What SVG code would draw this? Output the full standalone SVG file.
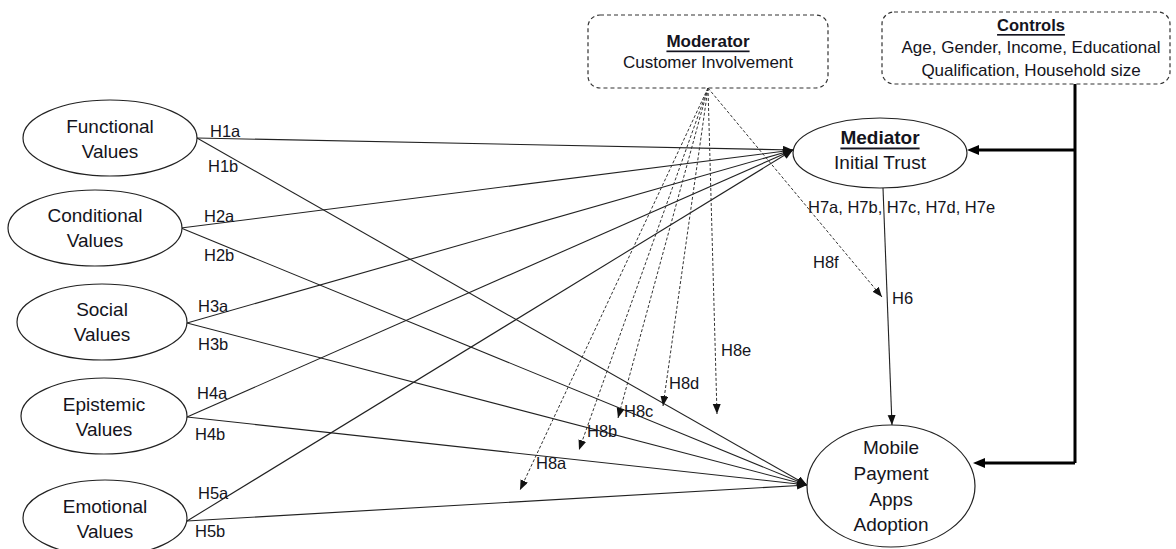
<svg xmlns="http://www.w3.org/2000/svg" width="1176" height="549" viewBox="0 0 1176 549">
<defs>
<marker id="ah" markerUnits="userSpaceOnUse" markerWidth="12" markerHeight="10" refX="10" refY="4" orient="auto">
<path d="M0,0 L10,4 L0,8 Z" fill="#111"/>
</marker>
<marker id="ahb" markerUnits="userSpaceOnUse" markerWidth="12" markerHeight="10" refX="10" refY="4" orient="auto">
<path d="M0,0 L10,4 L0,8 Z" fill="#000"/>
</marker>
<style>
.node{fill:#fff;stroke:#222;stroke-width:1.2}
.box{fill:#fff;stroke:#333;stroke-width:1.2;stroke-dasharray:4 3}
.t{font-family:"Liberation Sans",Arial,sans-serif;fill:#141420;text-anchor:middle;dominant-baseline:central}
.n{font-size:19px}
.s{font-size:17px}
.b{font-weight:bold;text-decoration:underline}
.lbl{font-family:"Liberation Sans",Arial,sans-serif;fill:#141420;font-size:16.5px;dominant-baseline:central}
.solid{stroke:#222;stroke-width:1.1;fill:none;marker-end:url(#ah)}
.dash{stroke:#333;stroke-width:1;fill:none;stroke-dasharray:3 2;marker-end:url(#ah)}
.thick{stroke:#000;stroke-width:3;fill:none}
</style>
</defs>
<rect width="1176" height="549" fill="#fff"/>

<g id="connectors">
<!-- value to mediator -->
<line class="solid" x1="197" y1="138" x2="793" y2="150"/>
<line class="solid" x1="181" y1="228" x2="793" y2="150"/>
<line class="solid" x1="187" y1="323" x2="793" y2="150"/>
<line class="solid" x1="187" y1="417" x2="793" y2="150"/>
<line class="solid" x1="187" y1="521" x2="793" y2="150"/>
<!-- value to adoption -->
<line class="solid" x1="197" y1="138" x2="807" y2="485"/>
<line class="solid" x1="181" y1="228" x2="807" y2="485"/>
<line class="solid" x1="187" y1="323" x2="807" y2="485"/>
<line class="solid" x1="187" y1="417" x2="807" y2="485"/>
<line class="solid" x1="187" y1="521" x2="807" y2="485"/>
<!-- mediator to adoption -->
<line class="solid" x1="883" y1="188" x2="892" y2="425"/>
<!-- moderator fan -->
<line class="dash" x1="708" y1="88" x2="520" y2="490"/>
<line class="dash" x1="708" y1="88" x2="579" y2="450"/>
<line class="dash" x1="708" y1="88" x2="618" y2="418"/>
<line class="dash" x1="708" y1="88" x2="663" y2="406"/>
<line class="dash" x1="708" y1="88" x2="717" y2="414"/>
<line class="dash" x1="708" y1="88" x2="882" y2="297"/>
<!-- controls -->
<polyline class="thick" points="1075,84 1075,463"/>
<line class="thick" x1="1075" y1="150" x2="978" y2="150"/>
<path d="M967,150 L979,145 L979,155 Z" fill="#000"/>
<line class="thick" x1="1075" y1="463" x2="984" y2="463"/>
<path d="M973,463 L985,458 L985,468 Z" fill="#000"/>
<!-- labels -->
<text class="lbl" x="210" y="131">H1a</text>
<text class="lbl" x="208" y="166">H1b</text>
<text class="lbl" x="204" y="216">H2a</text>
<text class="lbl" x="204" y="255">H2b</text>
<text class="lbl" x="198" y="306">H3a</text>
<text class="lbl" x="198" y="344">H3b</text>
<text class="lbl" x="197" y="393">H4a</text>
<text class="lbl" x="195" y="434">H4b</text>
<text class="lbl" x="198" y="493">H5a</text>
<text class="lbl" x="195" y="531">H5b</text>
<text class="lbl" x="808" y="207">H7a, H7b, H7c, H7d, H7e</text>
<text class="lbl" x="813" y="262">H8f</text>
<text class="lbl" x="892" y="298">H6</text>
<text class="lbl" x="536" y="463">H8a</text>
<text class="lbl" x="587" y="431">H8b</text>
<text class="lbl" x="624" y="411">H8c</text>
<text class="lbl" x="669" y="383">H8d</text>
<text class="lbl" x="721" y="350">H8e</text>
</g>

<g id="moderator">
<rect class="box" x="588" y="15" width="240" height="73" rx="12"/>
<text class="t s b" x="708" y="41">Moderator</text>
<text class="t s" x="708" y="62">Customer Involvement</text>
</g>

<g id="controls">
<rect class="box" x="882" y="12" width="288" height="72" rx="12"/>
<text class="t s b" x="1031" y="25" style="font-size:16.5px">Controls</text>
<text class="t s" x="1031" y="47">Age, Gender, Income, Educational</text>
<text class="t s" x="1031" y="70">Qualification, Household size</text>
</g>

<g id="functional">
<ellipse class="node" cx="110" cy="138" rx="87" ry="38"/>
<text class="t n" x="110" y="126">Functional</text>
<text class="t n" x="110" y="151">Values</text>
</g>
<g id="conditional">
<ellipse class="node" cx="95" cy="228" rx="87" ry="38"/>
<text class="t n" x="95" y="215">Conditional</text>
<text class="t n" x="95" y="240">Values</text>
</g>
<g id="social">
<ellipse class="node" cx="102" cy="322" rx="85" ry="38"/>
<text class="t n" x="102" y="309">Social</text>
<text class="t n" x="102" y="334">Values</text>
</g>
<g id="epistemic">
<ellipse class="node" cx="104" cy="416" rx="83" ry="38"/>
<text class="t n" x="104" y="404">Epistemic</text>
<text class="t n" x="104" y="429">Values</text>
</g>
<g id="emotional">
<ellipse class="node" cx="105" cy="518" rx="82" ry="38"/>
<text class="t n" x="105" y="506">Emotional</text>
<text class="t n" x="105" y="531">Values</text>
</g>

<g id="mediator">
<ellipse class="node" cx="880" cy="153" rx="87" ry="35"/>
<text class="t n b" x="880" y="137">Mediator</text>
<text class="t n" x="880" y="162">Initial Trust</text>
</g>

<g id="adoption">
<ellipse class="node" cx="891" cy="486" rx="84" ry="61"/>
<text class="t n" x="891" y="447">Mobile</text>
<text class="t n" x="891" y="473">Payment</text>
<text class="t n" x="891" y="499">Apps</text>
<text class="t n" x="891" y="524">Adoption</text>
</g>
</svg>
